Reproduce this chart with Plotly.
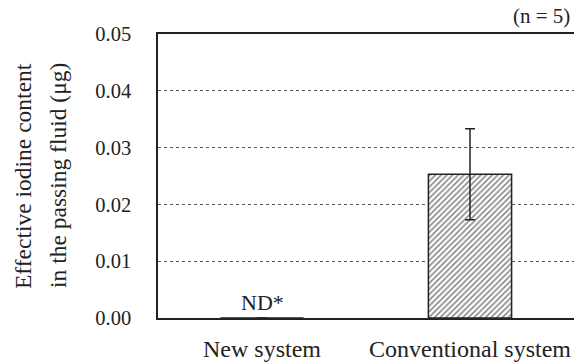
import plotly.graph_objects as go

categories = ["New system", "Conventional system"]
values = [0.0, 0.0253]
errors = [0.0, 0.0080]
y_ticks = [0.00, 0.01, 0.02, 0.03, 0.04, 0.05]
y_tick_labels = ["0.00", "0.01", "0.02", "0.03", "0.04", "0.05"]

FONT = "Liberation Serif"

fig = go.Figure()
fig.add_trace(go.Bar(
    x=categories, y=values,
    width=0.4,
    marker=dict(color="white", line=dict(color="#222", width=1.5),
                pattern=dict(shape="/", fgcolor="#111", bgcolor="white", size=4, solidity=0.4)),
    error_y=dict(type="data", array=[None, errors[1]], visible=True,
                 color="#222", thickness=1.5, width=5),
))

fig.add_annotation(x=categories[0], y=values[0], text="ND*", showarrow=False,
                   yanchor="bottom", yshift=1, font=dict(family=FONT, size=22, color="#222"))
fig.add_annotation(xref="paper", yref="paper", x=1.0, xshift=-2, y=1.0, yshift=18, xanchor="right",
                   yanchor="middle", text="(n = 5)", showarrow=False,
                   font=dict(family=FONT, size=21, color="#222"))
fig.add_annotation(xref="paper", yref="paper", x=0, xshift=-135, y=0.5, textangle=-90,
                   text="Effective iodine content", showarrow=False,
                   xanchor="center", yanchor="middle",
                   font=dict(family=FONT, size=23.5, color="#222"))
fig.add_annotation(xref="paper", yref="paper", x=0, xshift=-100, y=0.5, textangle=-90,
                   text="in the passing fluid (μg)", showarrow=False,
                   xanchor="center", yanchor="middle",
                   font=dict(family=FONT, size=23.5, color="#222"))

fig.update_layout(
    width=574, height=362,
    margin=dict(l=158, r=0, t=34, b=44),
    plot_bgcolor="white", paper_bgcolor="white",
    showlegend=False,
    font=dict(family=FONT, size=20, color="#222"),
    xaxis=dict(showline=True, linecolor="#222", linewidth=1.5, mirror=True,
               showgrid=False, ticks="", ticklabelstandoff=8,
               tickfont=dict(family=FONT, size=24, color="#222")),
    yaxis=dict(range=[0, 0.05], tickvals=y_ticks, ticktext=y_tick_labels,
               showline=True, linecolor="#222", linewidth=1.5,
               showgrid=True, gridcolor="#555", griddash="dot", gridwidth=1,
               ticks="", ticklabelstandoff=21, zeroline=False,
               tickfont=dict(family=FONT, size=20.5, color="#222")),
)

fig.write_html("out.html", config={"displayModeBar": False},
               post_script="document.body.style.margin='0';")
